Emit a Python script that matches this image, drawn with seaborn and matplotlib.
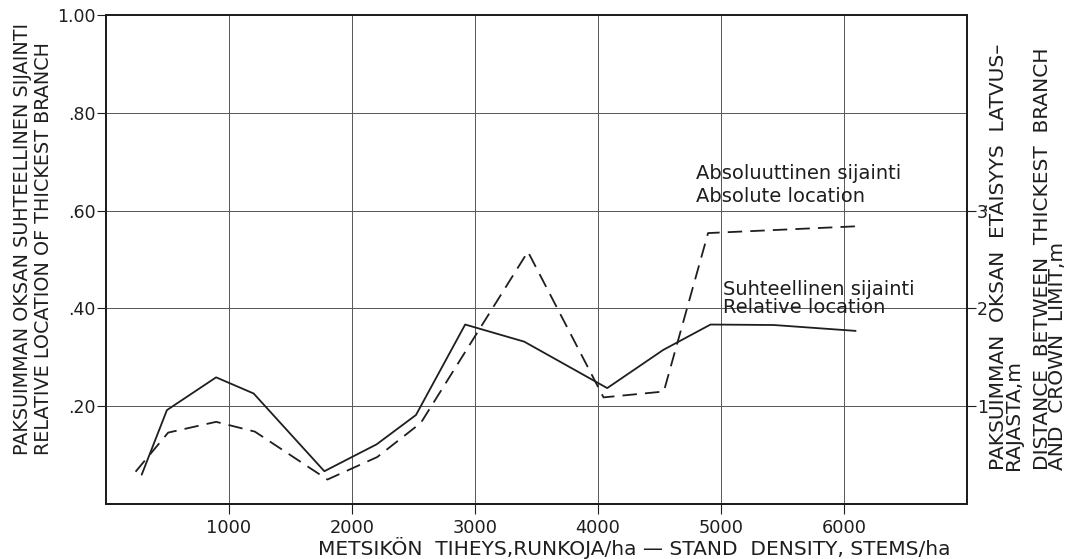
import matplotlib
matplotlib.use("Agg")
import matplotlib.pyplot as plt
import seaborn as sns

# Stand density (stems/ha) and relative location of the thickest branch
density_rel = [290, 495, 895, 1200, 1775, 2200, 2520, 2920, 3400, 4075, 4530, 4915, 5430, 6095]
relative = [0.060, 0.192, 0.259, 0.226, 0.067, 0.122, 0.182, 0.367, 0.332, 0.237, 0.315, 0.367, 0.366, 0.354]

# Stand density and distance between thickest branch and crown limit (m)
density_abs = [240, 505, 895, 1210, 1800, 2205, 2560, 3430, 4045, 4535, 4895, 6110]
absolute = [0.33, 0.73, 0.84, 0.74, 0.25, 0.48, 0.83, 2.58, 1.09, 1.15, 2.77, 2.84]

x_ticks = [1000, 2000, 3000, 4000, 5000, 6000]
left_ticks = [0.2, 0.4, 0.6, 0.8, 1.0]
left_labels = [".20", ".40", ".60", ".80", "1.00"]
right_ticks = [1, 2, 3]
right_labels = ["1", "2", "3"]

sns.set_theme(style="white")
plt.rcParams["font.family"] = ["DejaVu Sans"]
ink = "#1e1e1e"

fig = plt.figure(figsize=(10.81, 5.59), dpi=100)
ax = fig.add_axes([0.0981, 0.0984, 0.7964, 0.8748])
ax2 = ax.twinx()

sns.lineplot(x=density_rel, y=relative, ax=ax, color=ink, lw=1.3, sort=False)
sns.lineplot(x=density_abs, y=absolute, ax=ax2, color=ink, lw=1.3,
             linestyle=(0, (8, 4.5)), sort=False)

ax.set_xlim(0, 7000)
ax.set_ylim(0, 1.0)
ax2.set_ylim(0, 5.0)

ax.set_xticks(x_ticks)
ax.set_xticklabels([str(t) for t in x_ticks])
ax.set_yticks(left_ticks)
ax.set_yticklabels(left_labels)
ax2.set_yticks(right_ticks)
ax2.set_yticklabels(right_labels)

ax.grid(True, color="#555555", lw=0.7)
ax2.grid(False)

for a in (ax, ax2):
    for s in a.spines.values():
        s.set_color(ink)
        s.set_linewidth(1.4)
        s.set_visible(True)

ax.tick_params(axis="y", direction="out", length=6.5, width=0.8, color=ink,
               labelsize=12.5, labelcolor=ink, pad=1, left=True)
ax.tick_params(axis="x", direction="out", length=7, width=0.8, color=ink,
               labelsize=12.8, labelcolor=ink, pad=3.5, bottom=True)
ax2.tick_params(axis="y", direction="out", length=6.5, width=0.8, color=ink,
                labelsize=12.5, labelcolor=ink, pad=0.5, right=True)
ax.set_xlabel("")
ax.set_ylabel("")
ax2.set_ylabel("")

# Curve labels
txt = dict(fontsize=14, color=ink, ha="left", va="baseline")
ax.text(4800, 0.665, "Absoluuttinen sijainti", **txt)
ax.text(4800, 0.618, "Absolute location", **txt)
ax.text(5020, 0.427, "Suhteellinen sijainti", **txt)
ax.text(5020, 0.391, "Relative location", **txt)

# Axis titles
W, H = 1081, 559
fig.text(33 / W, 1 - 455 / H,
         "PAKSUIMMAN OKSAN SUHTEELLINEN SIJAINTI\nRELATIVE LOCATION OF THICKEST BRANCH",
         fontsize=13.8, color=ink, rotation=90, ha="center", va="bottom",
         multialignment="left", linespacing=1.17)
fig.text(1006 / W, 1 - 470 / H,
         "PAKSUIMMAN  OKSAN  ETÄISYYS  LATVUS–\nRAJASTA,m",
         fontsize=14.5, color=ink, rotation=90, ha="center", va="bottom",
         multialignment="left", linespacing=0.78)
fig.text(1050 / W, 1 - 470 / H,
         "DISTANCE  BETWEEN  THICKEST  BRANCH\nAND  CROWN  LIMIT,m",
         fontsize=14.5, color=ink, rotation=90, ha="center", va="bottom",
         multialignment="left", linespacing=0.78)
fig.text(318 / W, 1 - 548 / H, "METSIKÖN  TIHEYS,RUNKOJA/ha — STAND  DENSITY, STEMS/ha",
         fontsize=14.5, color=ink, ha="left", va="center")

fig.savefig("out.png", dpi=100, facecolor="white")
